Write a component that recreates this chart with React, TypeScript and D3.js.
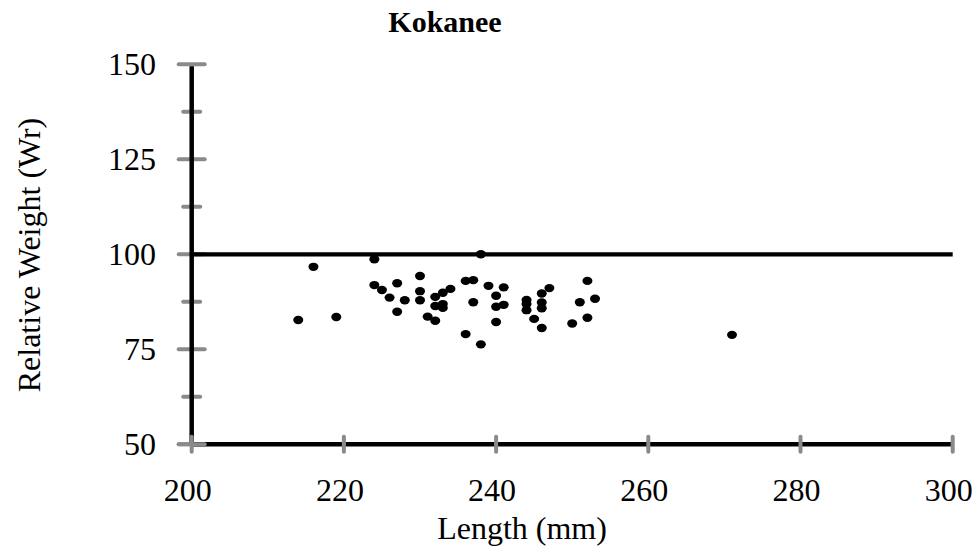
import React, { useEffect, useRef } from 'react'
import * as d3 from 'd3'

const lengths = [
  214, 216, 219, 224, 224, 225, 226, 227, 227, 228,
  230, 230, 230, 231, 232, 232, 233, 234, 232, 233,
  233, 236, 237, 237, 236, 238, 238, 239, 241, 240,
  240, 241, 240, 244, 244, 244, 246, 247, 246, 246,
  245, 246, 250, 251, 252, 253, 252, 271
]
const weights = [
  82.7, 96.7, 83.5, 98.7, 91.9, 90.6, 88.6, 92.4, 84.9, 87.9,
  94.3, 90.3, 87.9, 83.6, 82.5, 88.8, 89.9, 90.9, 86.4, 86.9,
  85.9, 93.0, 93.2, 87.4, 79.0, 76.3, 100.0, 91.7, 91.3, 89.1,
  86.2, 86.7, 82.2, 88.0, 86.9, 85.3, 89.7, 91.1, 87.3, 85.8,
  83.0, 80.6, 81.8, 87.4, 93.0, 88.3, 83.3, 78.8
]
const xTicks = [200, 220, 240, 260, 280, 300]
const yTicks = [50, 75, 100, 125, 150]
const yMinorTicks = [62.5, 87.5, 112.5, 137.5]
const referenceWr = 100

const App: React.FC = () => {
  const svgRef = useRef<SVGSVGElement>(null)

  useEffect(() => {
    if (!svgRef.current) return
    const svg = d3.select(svgRef.current)
    svg.selectAll('*').remove()

    const width = 977
    const height = 550
    const font = '"Liberation Serif", "Times New Roman", serif'
    const tickColor = '#8a8a8a'

    svg.attr('width', width).attr('height', height)

    const x = d3.scaleLinear().domain([200, 300]).range([191.7, 952.7])
    const y = d3.scaleLinear().domain([50, 150]).range([444.3, 64.3])

    const points = lengths.map((l, i) => ({ l, w: weights[i] }))

    // title
    svg.append('text')
      .attr('x', 445)
      .attr('y', 31.5)
      .attr('text-anchor', 'middle')
      .style('font-family', font)
      .style('font-weight', 'bold')
      .style('font-size', '30px')
      .text('Kokanee')

    // y tick marks (gray)
    const ticks = svg.append('g')
      .attr('stroke', tickColor)
      .attr('stroke-width', 4)
      .attr('stroke-linecap', 'round')

    yTicks.forEach(t => {
      ticks.append('line')
        .attr('x1', x(200) - 13).attr('x2', x(200) + 13)
        .attr('y1', y(t)).attr('y2', y(t))
    })
    yMinorTicks.forEach(t => {
      ticks.append('line')
        .attr('x1', x(200) - 8.5).attr('x2', x(200) + 8.5)
        .attr('y1', y(t)).attr('y2', y(t))
    })

    // axis lines
    svg.append('line')
      .attr('x1', x(200)).attr('x2', x(200))
      .attr('y1', y(150) + 2).attr('y2', y(50))
      .attr('stroke', '#000').attr('stroke-width', 4.5)
    svg.append('line')
      .attr('x1', x(200)).attr('x2', x(300))
      .attr('y1', y(50)).attr('y2', y(50))
      .attr('stroke', '#000').attr('stroke-width', 4.5)

    // x tick marks, drawn over the axis line
    const xTickG = svg.append('g')
      .attr('stroke', tickColor)
      .attr('stroke-width', 4)
      .attr('stroke-linecap', 'round')
    xTicks.forEach(t => {
      xTickG.append('line')
        .attr('x1', x(t)).attr('x2', x(t))
        .attr('y1', y(50) - 7.5).attr('y2', y(50) + 7.5)
    })
    xTickG.append('line')
      .attr('x1', x(200) - 13).attr('x2', x(200) + 13)
      .attr('y1', y(50)).attr('y2', y(50))

    // tick labels
    svg.append('g')
      .selectAll('text')
      .data(yTicks)
      .enter()
      .append('text')
      .attr('x', 156)
      .attr('y', d => y(d))
      .attr('dy', '0.33em')
      .attr('text-anchor', 'end')
      .style('font-family', font)
      .style('font-size', '32px')
      .text(d => d)

    svg.append('g')
      .selectAll('text')
      .data(xTicks)
      .enter()
      .append('text')
      .attr('x', d => x(d) - 4)
      .attr('y', 501)
      .attr('text-anchor', 'middle')
      .style('font-family', font)
      .style('font-size', '32px')
      .text(d => d)

    // axis titles
    svg.append('text')
      .attr('x', 522)
      .attr('y', 539)
      .attr('text-anchor', 'middle')
      .style('font-family', font)
      .style('font-size', '32px')
      .text('Length (mm)')

    svg.append('text')
      .attr('transform', 'translate(40, 255) rotate(-90)')
      .attr('text-anchor', 'middle')
      .style('font-family', font)
      .style('font-size', '32px')
      .text('Relative Weight (Wr)')

    // reference line at Wr = 100
    svg.append('line')
      .attr('x1', x(200)).attr('x2', x(300))
      .attr('y1', y(referenceWr)).attr('y2', y(referenceWr))
      .attr('stroke', '#000')
      .attr('stroke-width', 4.3)

    // data points
    svg.append('g')
      .selectAll('ellipse')
      .data(points)
      .enter()
      .append('ellipse')
      .attr('cx', d => x(d.l))
      .attr('cy', d => y(d.w))
      .attr('rx', 5)
      .attr('ry', 4.2)
      .attr('fill', '#000')
  }, [])

  return (
    <div style={{ position: 'absolute', left: 0, top: 0, background: '#fff' }}>
      <svg ref={svgRef} style={{ display: 'block' }}></svg>
    </div>
  )
}

export default App
